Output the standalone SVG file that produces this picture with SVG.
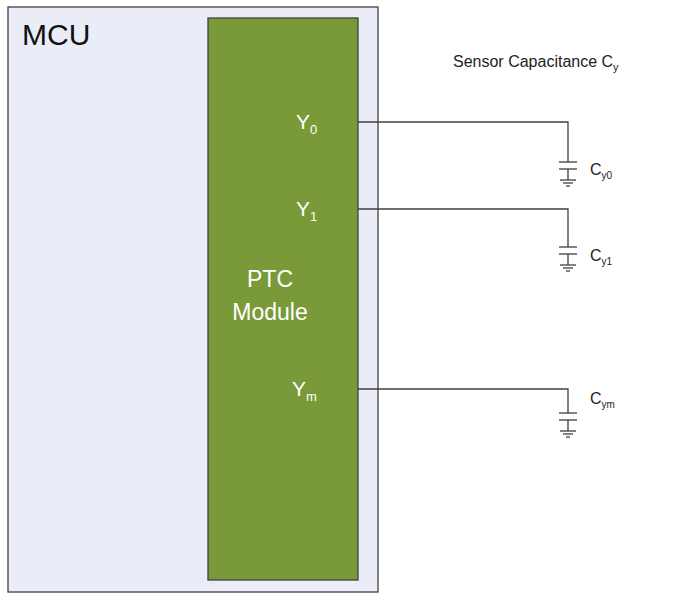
<svg xmlns="http://www.w3.org/2000/svg" width="676" height="595" viewBox="0 0 676 595">
<style>
.w{stroke:#404040;stroke-width:1.3;fill:none}
.t{font-family:"Liberation Sans",Arial,sans-serif}
.y{fill:#fff;font-size:21px}
.c{fill:#222;font-size:16px}
</style>
<defs>
<g id="cap" class="w">
<line x1="-9" y1="0" x2="9" y2="0"/><line x1="-9" y1="7" x2="9" y2="7"/>
<line x1="0" y1="7" x2="0" y2="18"/>
<line x1="-8" y1="18" x2="8" y2="18"/><line x1="-5" y1="21" x2="5" y2="21"/><line x1="-2" y1="24" x2="2" y2="24"/>
</g>
</defs>
<rect width="676" height="595" fill="#fff"/>
<g id="mcu"><rect x="8" y="7" width="370" height="585" fill="#eaecf8" stroke="#404040" stroke-width="1.3"/>
<text x="22" y="45" class="t" font-size="30" fill="#111">MCU</text></g>
<g id="ptc"><rect x="208" y="18" width="150" height="562" fill="#7a9a3a" stroke="#404040" stroke-width="1.3"/>
<text x="270" y="287" class="t" font-size="23" fill="#fff" text-anchor="middle">PTC</text>
<text x="270" y="320" class="t" font-size="23" fill="#fff" text-anchor="middle">Module</text>
<text x="296" y="129" class="t y">Y<tspan font-size="13" dy="5">0</tspan></text>
<text x="296" y="216" class="t y">Y<tspan font-size="13" dy="5">1</tspan></text>
<text x="292" y="396" class="t y">Y<tspan font-size="13" dy="5">m</tspan></text></g>
<g id="connectors">
<polyline class="w" points="358,122 568,122 568,162"/>
<polyline class="w" points="358,209 568,209 568,247"/>
<polyline class="w" points="358,389 568,389 568,413"/>
</g>
<g id="caps">
<use href="#cap" x="568" y="162"/><use href="#cap" x="568" y="247"/><use href="#cap" x="568" y="413"/>
<text x="590" y="175" class="t c">C<tspan font-size="10" dy="4">y0</tspan></text>
<text x="590" y="261" class="t c">C<tspan font-size="10" dy="4">y1</tspan></text>
<text x="590" y="404" class="t c">C<tspan font-size="10" dy="4">ym</tspan></text>
</g>
<text x="453" y="67" class="t" font-size="16" fill="#222">Sensor Capacitance C<tspan font-size="11" dy="4">y</tspan></text>
</svg>
